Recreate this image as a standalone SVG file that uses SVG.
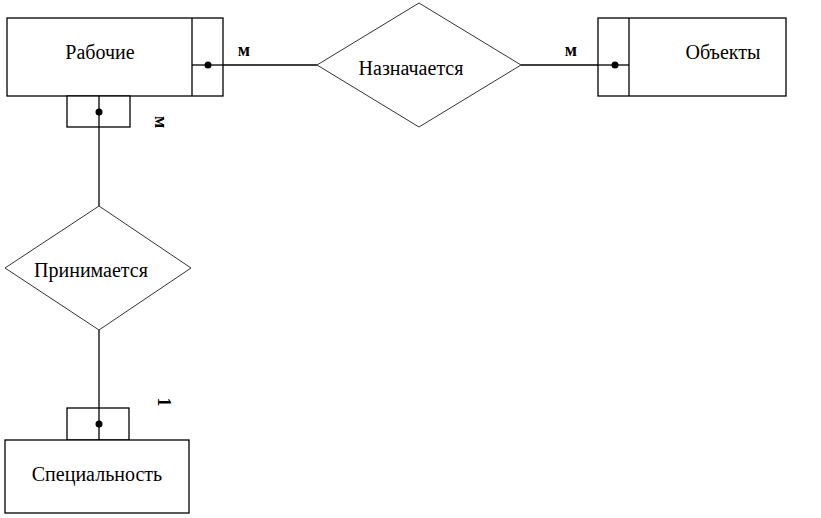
<svg xmlns="http://www.w3.org/2000/svg" width="821" height="518" viewBox="0 0 821 518">
<style>
.box{fill:#fff;stroke:#000;stroke-width:1.3}
.dia{fill:#fff;stroke:#333;stroke-width:1}
.ln{stroke:#000;stroke-width:1.3;fill:none}
.t{font-family:"Liberation Serif",serif;font-size:20px;fill:#000;text-anchor:middle}
.c{font-family:"Liberation Serif",serif;font-size:18px;font-weight:bold;fill:#000;text-anchor:middle}
.dot{fill:#000}
</style>
<rect width="821" height="518" fill="#fff"/>
<g id="connectors">
<line class="ln" x1="223" y1="65" x2="317" y2="65"/>
<line class="ln" x1="521" y1="65" x2="598" y2="65"/>
<line class="ln" x1="99" y1="96" x2="99" y2="206"/>
<line class="ln" x1="99" y1="330" x2="99" y2="440"/>
<text class="c" x="244" y="56">м</text>
<text class="c" x="571" y="56">м</text>
<text class="c" transform="translate(161,122) rotate(90)" y="6">м</text>
<text class="c" transform="translate(164,402) rotate(90)" y="6">1</text>
</g>
<g id="rabochie">
<rect class="box" x="7" y="18" width="216" height="78"/>
<line class="ln" x1="192" y1="18" x2="192" y2="96"/>
<line class="ln" x1="192" y1="65" x2="223" y2="65"/>
<circle class="dot" cx="208" cy="65" r="3.5"/>
<rect class="box" x="67" y="96" width="63" height="31"/>
<line class="ln" x1="99" y1="96" x2="99" y2="127"/>
<circle class="dot" cx="99" cy="112" r="3.5"/>
<text class="t" x="100" y="59">Рабочие</text>
</g>
<g id="naznachaetsya">
<polygon class="dia" points="317,65 419,3 521,65 419,127"/>
<text class="t" x="411" y="75">Назначается</text>
</g>
<g id="obekty">
<rect class="box" x="598" y="18" width="188" height="78"/>
<line class="ln" x1="629" y1="18" x2="629" y2="96"/>
<line class="ln" x1="598" y1="65" x2="629" y2="65"/>
<circle class="dot" cx="615" cy="65" r="3.5"/>
<text class="t" x="723" y="59">Объекты</text>
</g>
<g id="prinimaetsya">
<polygon class="dia" points="5,268 99,206 191,268 99,330"/>
<text class="t" x="91" y="277">Принимается</text>
</g>
<g id="specialnost">
<rect class="box" x="67" y="408" width="62" height="32"/>
<line class="ln" x1="99" y1="408" x2="99" y2="440"/>
<circle class="dot" cx="99" cy="424" r="3.5"/>
<rect class="box" x="5" y="440" width="184" height="73"/>
<text class="t" x="97" y="481">Специальность</text>
</g>
</svg>
